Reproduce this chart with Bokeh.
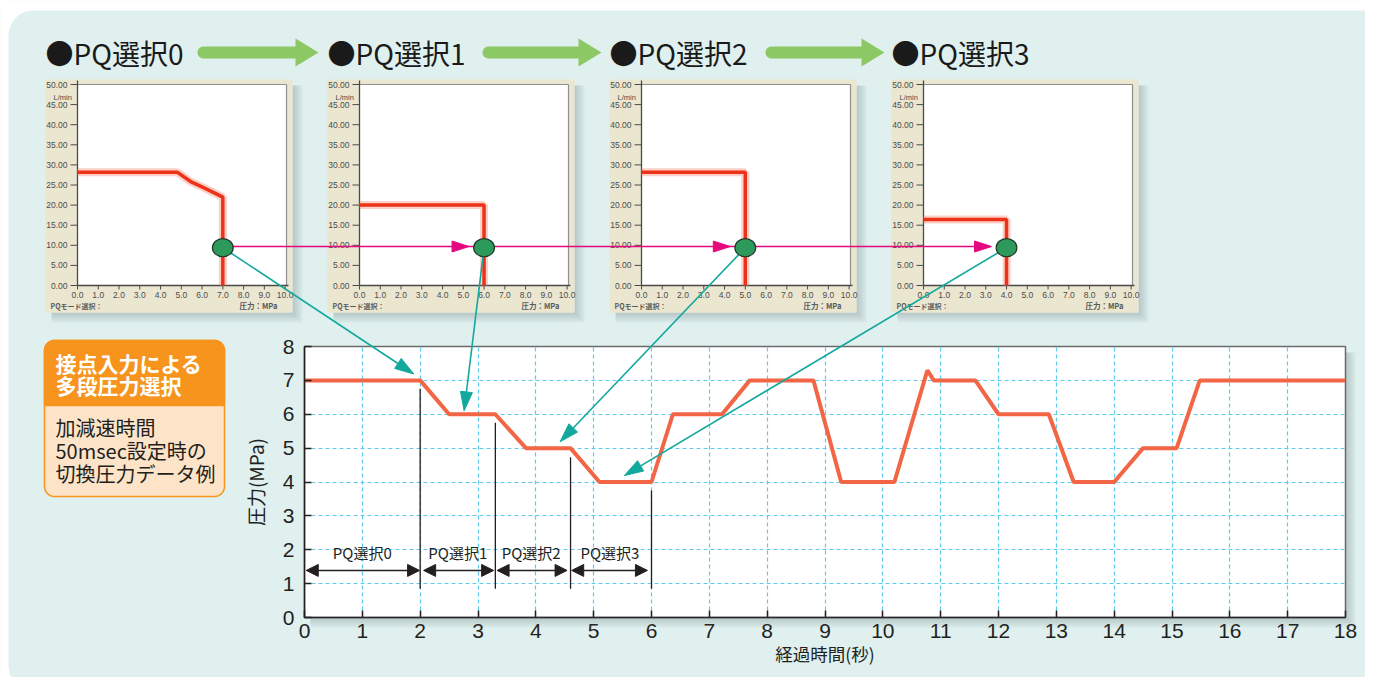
import numpy as np
from bokeh.plotting import figure
from bokeh.models import Range1d, FixedTicker, Arrow, NormalHead, ColumnDataSource
from bokeh.core.properties import value
from bokeh.embed import file_html
from bokeh.resources import INLINE

# ---------------- data ----------------
time_s = [0, 2.0, 2.5, 3.3, 3.83, 4.6, 5.1, 6.0, 6.37, 7.22, 7.7, 8.8, 9.28,
          10.2, 10.77, 10.88, 11.6, 12.0, 12.87, 13.3, 14.0, 14.5, 15.08, 15.48, 18]
pressure_mpa = [7, 7, 6, 6, 5, 5, 4, 4, 6, 6, 7, 7, 4,
                4, 7.3, 7, 7, 6, 6, 4, 4, 5, 5, 7, 7]
x_ticks = list(range(0, 19))
y_ticks = list(range(0, 9))

seg_labels = ["PQ選択0", "PQ選択1", "PQ選択2", "PQ選択3"]
seg_label_t = [1.0, 2.65, 3.92, 5.28]
seg_label_p = [1.93, 1.93, 1.93, 1.93]
span_start_t = [0.03, 2.06, 3.33, 4.62]
span_end_t = [1.99, 3.27, 4.54, 5.93]
span_p = [1.39, 1.39, 1.39, 1.39]
switch_t = [2.0, 3.3, 4.6, 6.0]
switch_top_p = [6.75, 5.75, 4.73, 3.75]
switch_bottom_p = [0.85, 0.85, 0.85, 0.85]

pq_titles = ["●PQ選択0", "●PQ選択1", "●PQ選択2", "●PQ選択3"]
pq_p = [[0, 4.8, 5.5, 6.1, 7.0, 7.0], [0, 6.0, 6.0], [0, 5.0, 5.0], [0, 4.0, 4.0]]
pq_q = [[28.2, 28.2, 25.7, 24.3, 22.0, 0], [20.0, 20.0, 0], [28.2, 28.2, 0], [16.4, 16.4, 0]]
pq_set_p = [7.0, 6.0, 5.0, 4.0]
pq_set_q = [9.4, 9.4, 9.4, 9.4]
pq_line_q = 9.7
pq_x_ticks = list(range(0, 11))
pq_x_labels = ["0.0", "1.0", "2.0", "3.0", "4.0", "5.0", "6.0", "7.0", "8.0", "9.0", "10.0"]
pq_y_ticks = list(range(0, 51, 5))
pq_y_labels = ["0.00", "5.00", "10.00", "15.00", "20.00", "25.00", "30.00", "35.00", "40.00", "45.00", "50.00"]
tip_t = [1.89, 2.76, 4.42, 5.53]
tip_p = [7.19, 6.10, 5.19, 4.19]

box_head = ["接点入力による", "多段圧力選択"]
box_body = ["加減速時間", "50msec設定時の", "切換圧力データ例"]

# ---------------- geometry (canvas pixel coordinates) ----------------
W_FIG, H_FIG = 1365, 677
FX0, FX1 = 304, 1345          # main frame left / right
FY_B, FY_T = 617, 346         # main frame bottom / top
PX0, PDX, PSTEP = 77, 20.76, 282
PY0, PDY = 285, 4.02

TEAL = "#dff0ef"
INK = "#231f20"
MAGENTA = "#e5097f"
JP = value("Noto Sans CJK JP")
LAT = value("Liberation Sans")


def tx(t):
    return FX0 + (FX1 - FX0) * t / 18.0


def ty(v):
    return FY_B - (FY_B - FY_T) * v / 8.0


def qx(i, m):
    return PX0 + PSTEP * i + PDX * m


def qy(q):
    return PY0 - PDY * q


p = figure(width=W_FIG, height=H_FIG, x_range=Range1d(0, 18), y_range=Range1d(0, 8),
           output_backend="svg", toolbar_location=None,
           min_border_left=FX0, min_border_right=W_FIG - FX1,
           min_border_top=FY_T, min_border_bottom=H_FIG - FY_B)
p.border_fill_color = TEAL
p.background_fill_color = "white"
p.outline_line_color = "#6b6b6b"
p.outline_line_width = 1.5

p.extra_x_ranges = {"px": Range1d(FX0, FX1)}
for i in range(4):
    o = PX0 + PSTEP * i
    p.extra_x_ranges[f"pq{i}"] = Range1d(start=(FX0 - o) / PDX, end=(FX1 - o) / PDX)
p.extra_y_ranges = {"py": Range1d(FY_B, FY_T),
                    "pqy": Range1d(start=(PY0 - FY_B) / PDY, end=(PY0 - FY_T) / PDY)}

# axes
xt = FixedTicker(ticks=x_ticks)
yt = FixedTicker(ticks=y_ticks)
p.xaxis.ticker = xt
p.xgrid.ticker = xt
p.yaxis.ticker = yt
p.ygrid.ticker = yt
for ax in (p.xaxis[0], p.yaxis[0]):
    ax.major_tick_in = 7
    ax.major_tick_out = 0
    ax.minor_tick_line_color = None
    ax.axis_line_color = INK
    ax.axis_line_width = 1.5
    ax.major_tick_line_color = INK
    ax.major_tick_line_width = 1.5
    ax.major_label_text_font = "Liberation Sans"
    ax.major_label_text_font_size = "21px"
    ax.major_label_text_color = INK
    ax.axis_label_text_font = "Noto Sans CJK JP"
    ax.axis_label_text_font_style = "normal"
    ax.axis_label_text_color = INK
p.xaxis.major_label_standoff = 6
p.xaxis.axis_label = "経過時間(秒)"
p.xaxis.axis_label_text_font_size = "17.5px"
p.xaxis.axis_label_standoff = 0
p.yaxis.major_label_standoff = 10
p.yaxis.axis_label = "圧力(MPa)"
p.yaxis.axis_label_text_font_size = "19px"
p.yaxis.axis_label_standoff = 11

p.grid.grid_line_color = "#5ccbf0"
p.grid.grid_line_dash = "4 3"
p.grid.grid_line_width = 1.2

# main chart content
p.segment(x0=switch_t, y0=switch_bottom_p, x1=switch_t, y1=switch_top_p, line_color=INK, line_width=1.3)
p.line(time_s, pressure_mpa, line_color="#f26646", line_width=4)
src = ColumnDataSource(dict(xs=span_start_t, xe=span_end_t, y=span_p))
p.add_layout(Arrow(start=NormalHead(size=12, fill_color=INK, line_color=INK),
                   end=NormalHead(size=12, fill_color=INK, line_color=INK),
                   x_start="xs", y_start="y", x_end="xe", y_end="y", source=src,
                   line_color=INK, line_width=1.5))
p.text(seg_label_t, seg_label_p, text=seg_labels, text_font=JP, text_font_size="15px",
       text_color=INK, text_align="center", text_baseline="middle")

OV = dict(x_range_name="px", y_range_name="py", level="overlay")


def rrect(x0, y0, x1, y1, rtl, rtr, rbr, rbl, n=12):
    xs, ys = [], []

    def arc(cx, cy, r, a0, a1):
        for a in np.linspace(a0, a1, n):
            xs.append(float(cx + r * np.cos(a)))
            ys.append(float(cy + r * np.sin(a)))
    arc(x0 + rtl, y0 + rtl, rtl, np.pi, 1.5 * np.pi)
    arc(x1 - rtr, y0 + rtr, rtr, 1.5 * np.pi, 2 * np.pi)
    arc(x1 - rbr, y1 - rbr, rbr, 0, 0.5 * np.pi)
    arc(x0 + rbl, y1 - rbl, rbl, 0.5 * np.pi, np.pi)
    return xs, ys


def shadow(x0, y0, x1, y1, d=10, steps=5, alpha=0.06):
    for k in range(1, steps + 1):
        w = d * k / steps
        p.quad(left=x1, right=x1 + w, top=y0 + 6, bottom=y1 + w, fill_color="#4f6666",
               fill_alpha=alpha, line_color=None, **OV)
        p.quad(left=x0 + 6, right=x1, top=y1, bottom=y1 + w, fill_color="#4f6666",
               fill_alpha=alpha, line_color=None, **OV)


def head(x0, y0, x1, y1, L, W):
    dx, dy = x1 - x0, y1 - y0
    n = float(np.hypot(dx, dy))
    ux, uy = dx / n, dy / n
    bx, by = x1 - L * ux, y1 - L * uy
    return ([float(x1), float(bx - W / 2 * uy), float(bx + W / 2 * uy)],
            [float(y1), float(by + W / 2 * ux), float(by - W / 2 * ux)], (float(bx), float(by)))


# white page outside the rounded teal panel
a1 = np.linspace(1.5 * np.pi, np.pi, 16)
a2 = np.linspace(np.pi, 0.5 * np.pi, 16)
mx = [0, W_FIG, W_FIG] + list(33 + 25 * np.cos(a1)) + list(33 + 25 * np.cos(a2)) + [0]
my = [0, 0, 10] + list(35 + 25 * np.sin(a1)) + list(665 + 25 * np.sin(a2)) + [690]
p.patch([float(v) for v in mx], [float(v) for v in my], fill_color="white", line_color=None, **OV)

# main frame shadow
shadow(FX0, FY_T, FX1, FY_B, d=10)

# ---------------- PQ panels ----------------
for i in range(4):
    ox = PSTEP * i
    shadow(45 + ox, 79, 292 + ox, 312, d=10)
    p.quad(left=45 + ox, right=292 + ox, top=79, bottom=312, fill_color="#ebe6d0", line_color=None, **OV)
    p.quad(left=77 + ox, right=286 + ox, top=84, bottom=285, fill_color="white", line_color=None, **OV)
    p.segment(x0=[77 + ox, 286 + ox], y0=[84, 84], x1=[286 + ox, 286 + ox], y1=[84, 285],
              line_color="#8f8f8f", line_width=1.2, **OV)
    p.segment(x0=[77 + ox, 77 + ox], y0=[80, 285], x1=[77 + ox, 288 + ox], y1=[285, 285],
              line_color="#4a4a4a", line_width=1.3, **OV)
    yy = [qy(q) for q in pq_y_ticks]
    p.segment(x0=[70 + ox] * len(yy), y0=yy, x1=[77 + ox] * len(yy), y1=yy,
              line_color="#4a4a4a", line_width=1, **OV)
    xx = [qx(i, m) for m in pq_x_ticks]
    p.segment(x0=xx, y0=[285] * len(xx), x1=xx, y1=[289] * len(xx),
              line_color="#4a4a4a", line_width=1, **OV)
    p.text([67 + ox] * len(yy), yy, text=pq_y_labels, text_font=LAT, text_font_size="8.5px",
           text_color="#4d4d4d", text_align="right", text_baseline="middle", **OV)
    p.text(xx, [294] * len(xx), text=pq_x_labels, text_font=LAT, text_font_size="8.5px",
           text_color="#4d4d4d", text_align="center", text_baseline="middle", **OV)
    p.text([53 + ox], [97], text=["L/min"], text_font=LAT, text_font_size="7.5px",
           text_color="#4d4d4d", text_align="left", text_baseline="middle", **OV)
    p.text([50 + ox], [305], text=["PQモード選択："], text_font=JP, text_font_size="7px",
           text_font_style="bold", text_color="#5a5a5a", text_align="left", text_baseline="middle", **OV)
    p.text([277 + ox], [305], text=["圧力：MPa"], text_font=JP, text_font_size="7.5px",
           text_font_style="bold", text_color="#5a5a5a", text_align="right", text_baseline="middle", **OV)
    # PQ curve with glow
    p.line(pq_p[i], pq_q[i], x_range_name=f"pq{i}", y_range_name="pqy", level="overlay",
           line_color="#f47a5e", line_width=8, line_alpha=0.35)
    p.line(pq_p[i], pq_q[i], x_range_name=f"pq{i}", y_range_name="pqy", level="overlay",
           line_color="#ee3219", line_width=3.5)
    # title
    p.text([45 + ox], [52], text=[pq_titles[i]], text_font=JP, text_font_size="28px",
           text_color="#1a1a1a", text_align="left", text_baseline="middle", **OV)

# green flow arrows between titles
for x0, x1 in [(197, 318), (482, 601), (765, 884)]:
    yc, hf, hh, hl = 52, 6, 14, 23
    a = np.linspace(0.5 * np.pi, 1.5 * np.pi, 12)
    gx = [float(v) for v in (x0 + hf + hf * np.cos(a))] + [x1 - hl, x1 - hl, x1, x1 - hl, x1 - hl]
    gy = [float(v) for v in (yc + hf * np.sin(a))] + [yc - hf, yc - hh, yc, yc + hh, yc + hf]
    p.patch(gx, gy, fill_color="#8cc863", line_color=None, **OV)

# orange info box
bx, by = rrect(44, 340, 224, 496, 10, 10, 10, 10)
p.patch(bx, by, fill_color="#fde3c7", line_color="#f7941d", line_width=1.5, **OV)
bx, by = rrect(44, 340, 224, 405, 10, 10, 0, 0)
p.patch(bx, by, fill_color="#f7941d", line_color="#f7941d", line_width=1.5, **OV)
p.text([55, 55], [362, 384], text=box_head, text_font=JP, text_font_size="21px",
       text_font_style="bold", text_color="white", text_align="left", text_baseline="middle", **OV)
p.text([55, 55, 55], [427, 450, 473], text=box_body, text_font=JP, text_font_size="20px",
       text_color=INK, text_align="left", text_baseline="middle", **OV)

# magenta line linking set points
dots_x = [qx(i, pq_set_p[i]) for i in range(4)]
dots_y = [qy(q) for q in pq_set_q]
ly = qy(pq_line_q)
tips = [dots_x[i] - 15 for i in range(1, 4)]
p.line([dots_x[0], tips[-1] - 10], [ly, ly], line_color=MAGENTA, line_width=1.6, **OV)
for t in tips:
    p.patch([t, t - 17, t - 17], [ly, ly - 5.5, ly + 5.5], fill_color=MAGENTA,
            line_color=MAGENTA, line_width=1, **OV)

# teal arrows from PQ set point to the pressure trace
for i in range(4):
    x1, y1 = tx(tip_t[i]), ty(tip_p[i])
    a_, b_, (bx_, by_) = head(dots_x[i], dots_y[i], x1, y1, 19, 12)
    p.line([dots_x[i], bx_], [dots_y[i], by_], line_color="#13a89e", line_width=1.6, **OV)
    p.patch(a_, b_, fill_color="#13a89e", line_color="#13a89e", line_width=1, **OV)

# set-point dots
for i in range(4):
    p.ellipse([pq_set_p[i]], [pq_set_q[i]], width=1.0, height=4.5, x_range_name=f"pq{i}",
              y_range_name="pqy", level="overlay", fill_color="#2d9a5c", line_color="#1d3a2a",
              line_width=1.2)

open("out.html", "w").write(file_html(p, INLINE))
